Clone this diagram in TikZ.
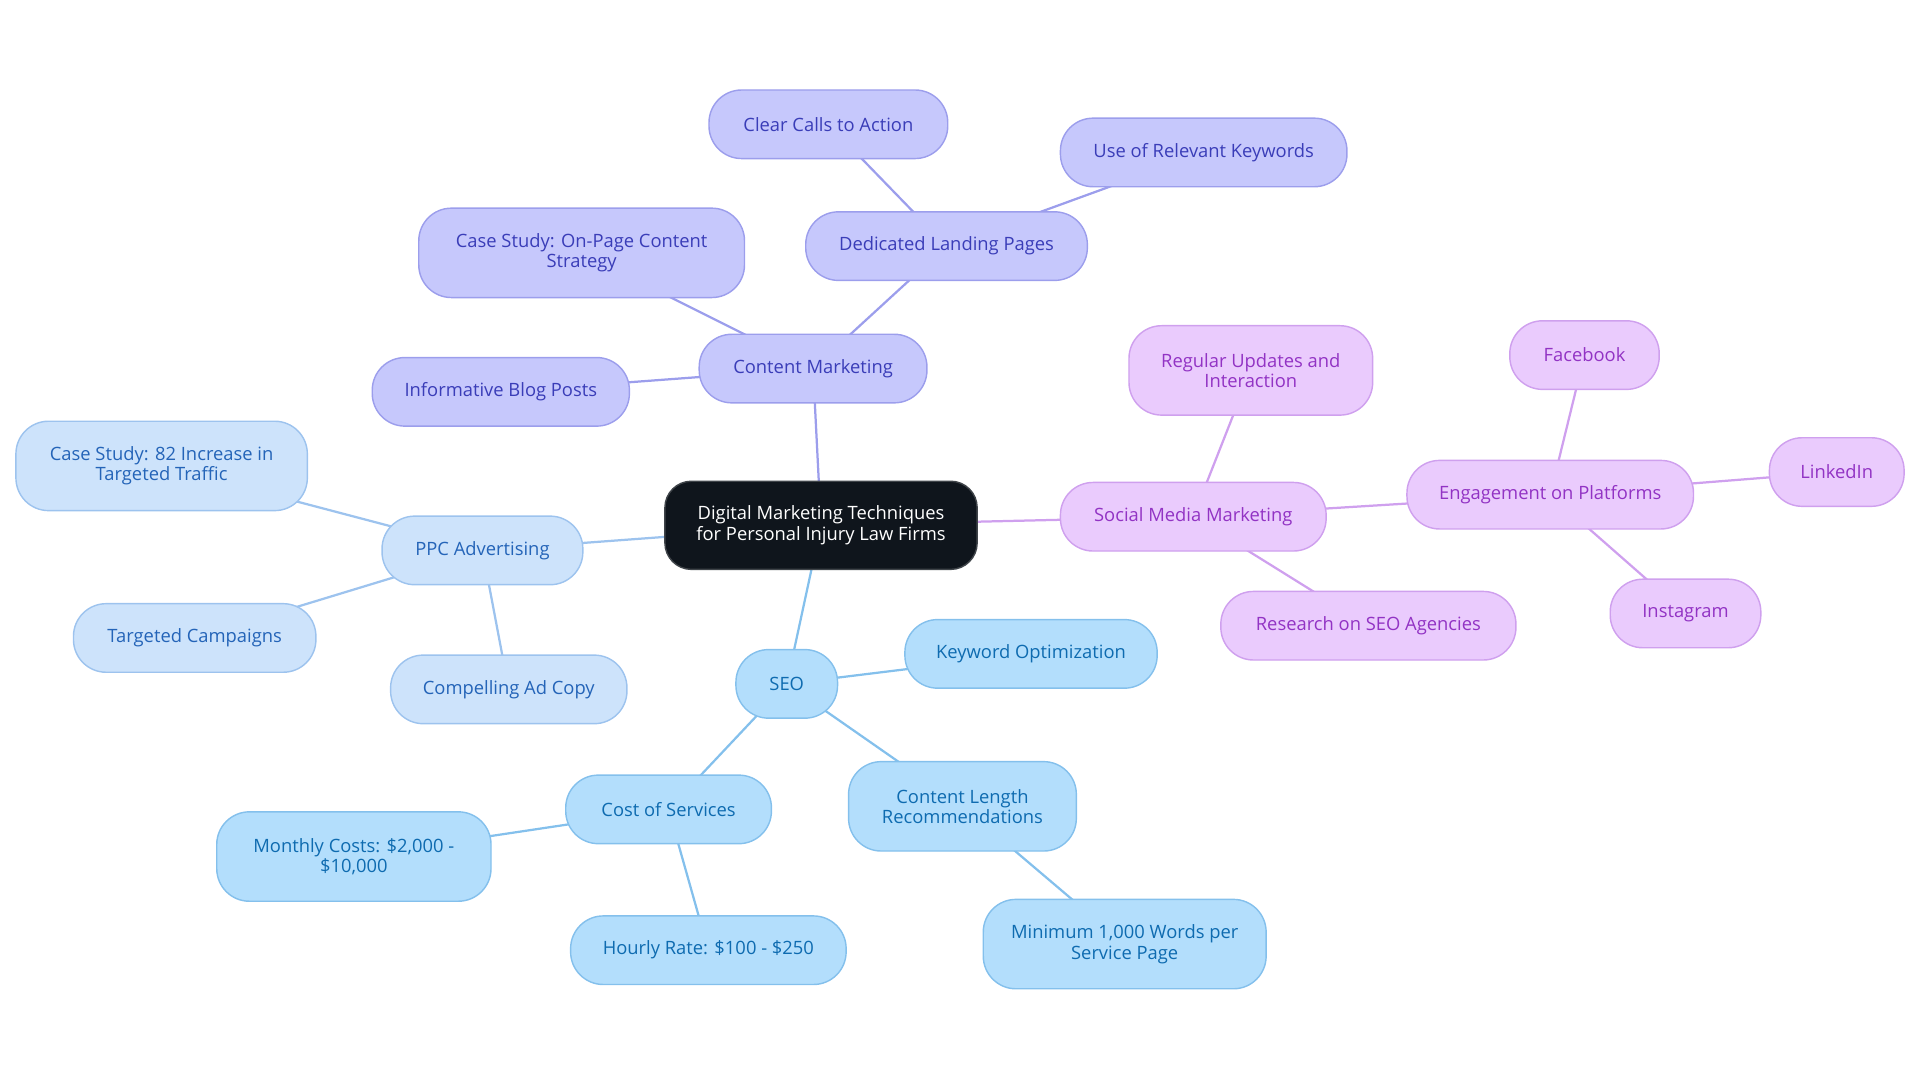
\documentclass[tikz,border=0pt]{standalone}
\usepackage{fontspec}
\setmainfont{Open Sans}
\usetikzlibrary{backgrounds}
\definecolor{rootfill}{HTML}{0F151C}
\definecolor{cmfill}{HTML}{C6C8FC}
\definecolor{cmline}{HTML}{9C9EEC}
\definecolor{cmtext}{HTML}{3A3DB8}
\definecolor{ppcfill}{HTML}{CDE3FB}
\definecolor{ppcline}{HTML}{9DC3EE}
\definecolor{ppctext}{HTML}{2464B8}
\definecolor{seofill}{HTML}{B3DEFC}
\definecolor{seoline}{HTML}{84C0EC}
\definecolor{seotext}{HTML}{0E6BB0}
\definecolor{smfill}{HTML}{EACBFD}
\definecolor{smline}{HTML}{CFA0EE}
\definecolor{smtext}{HTML}{9233C4}
\tikzset{
  bubble/.style = {rounded corners=16pt, line width=0.7pt, align=center,
                   inner sep=0pt, minimum height=33.6pt,
                   font=\fontsize{9}{10}\selectfont},
  tall/.style   = {minimum height=43.8pt},
  wd/.style     = {minimum width=#1*0.6pt},
  rootbox/.style = {bubble, fill=rootfill, draw=rootfill!80!white, text=white,
                   rounded corners=13pt, minimum height=43.2pt},
  cmbox/.style  = {bubble, fill=cmfill, draw=cmline, text=cmtext},
  ppcbox/.style = {bubble, fill=ppcfill, draw=ppcline, text=ppctext},
  seobox/.style = {bubble, fill=seofill, draw=seoline, text=seotext},
  smbox/.style  = {bubble, fill=smfill, draw=smline, text=smtext},
  cmedge/.style  = {cmline, line width=1.1pt},
  ppcedge/.style = {ppcline, line width=1.1pt},
  seoedge/.style = {seoline, line width=1.1pt},
  smedge/.style  = {smline, line width=1.1pt},
}

\begin{document}
\begin{tikzpicture}[x=0.6pt, y=-0.6pt]
\useasboundingbox (0,0) rectangle (1568,884);

\node[rootbox, wd=255] (root) at (670.5,429) {Digital Marketing Techniques\\for Personal Injury Law Firms};

% content marketing
\node[cmbox, wd=186] (cm) at (664,301) {Content Marketing};
\node[cmbox, wd=230] (landing) at (773,201) {Dedicated Landing Pages};
\node[cmbox, wd=195] (calls) at (676.5,101.5) {Clear Calls to Action};
\node[cmbox, wd=234] (keywords) at (983,124.5) {Use of Relevant Keywords};
\node[cmbox, tall, wd=266] (casecm) at (475,206.5) {Case Study: On-Page Content\\Strategy};
\node[cmbox, wd=210] (blog) at (409,320) {Informative Blog Posts};

% ppc
\node[ppcbox, wd=164] (ppc) at (394,449.5) {PPC Advertising};
\node[ppcbox, tall, wd=238] (caseppc) at (132,380.5) {Case Study: 82 Increase in\\Targeted Traffic};
\node[ppcbox, wd=198] (targeted) at (159,521) {Targeted Campaigns};
\node[ppcbox, wd=193] (adcopy) at (415.5,563) {Compelling Ad Copy};

% seo
\node[seobox, wd=83] (seo) at (642.5,558.5) {SEO};
\node[seobox, wd=206] (kwopt) at (842,534) {Keyword Optimization};
\node[seobox, wd=168] (cost) at (546,661) {Cost of Services};
\node[seobox, tall, wd=224] (monthly) at (289,699.5) {Monthly Costs: \$2,000 -\\\$10,000};
\node[seobox, wd=225] (hourly) at (578.5,776) {Hourly Rate: \$100 - \$250};
\node[seobox, tall, wd=186] (length) at (786,658.5) {Content Length\\Recommendations};
\node[seobox, tall, wd=231] (minwords) at (918.5,771) {Minimum 1,000 Words per\\Service Page};

% social media
\node[smbox, wd=217] (smm) at (974.5,422) {Social Media Marketing};
\node[smbox, tall, wd=199] (updates) at (1021.5,302.5) {Regular Updates and\\Interaction};
\node[smbox, wd=241] (research) at (1117.5,511) {Research on SEO Agencies};
\node[smbox, wd=234] (platforms) at (1266,404) {Engagement on Platforms};
\node[smbox, wd=122] (facebook) at (1294,290) {Facebook};
\node[smbox, wd=110] (linkedin) at (1500,385.5) {LinkedIn};
\node[smbox, wd=123] (instagram) at (1376.5,501) {Instagram};

\begin{scope}[on background layer]
\draw[cmedge] (root.center) -- (cm.center);
\draw[cmedge] (cm.center) -- (landing.center);
\draw[cmedge] (landing.center) -- (calls.center);
\draw[cmedge] (landing.center) -- (keywords.center);
\draw[cmedge] (cm.center) -- (casecm.center);
\draw[cmedge] (cm.center) -- (blog.center);
\draw[ppcedge] (root.center) -- (ppc.center);
\draw[ppcedge] (ppc.center) -- (caseppc.center);
\draw[ppcedge] (ppc.center) -- (targeted.center);
\draw[ppcedge] (ppc.center) -- (adcopy.center);
\draw[seoedge] (root.center) -- (seo.center);
\draw[seoedge] (seo.center) -- (kwopt.center);
\draw[seoedge] (seo.center) -- (cost.center);
\draw[seoedge] (cost.center) -- (monthly.center);
\draw[seoedge] (cost.center) -- (hourly.center);
\draw[seoedge] (seo.center) -- (length.center);
\draw[seoedge] (length.center) -- (minwords.center);
\draw[smedge] (root.center) -- (smm.center);
\draw[smedge] (smm.center) -- (updates.center);
\draw[smedge] (smm.center) -- (research.center);
\draw[smedge] (smm.center) -- (platforms.center);
\draw[smedge] (platforms.center) -- (facebook.center);
\draw[smedge] (platforms.center) -- (linkedin.center);
\draw[smedge] (platforms.center) -- (instagram.center);
\end{scope}
\end{tikzpicture}
\end{document}
